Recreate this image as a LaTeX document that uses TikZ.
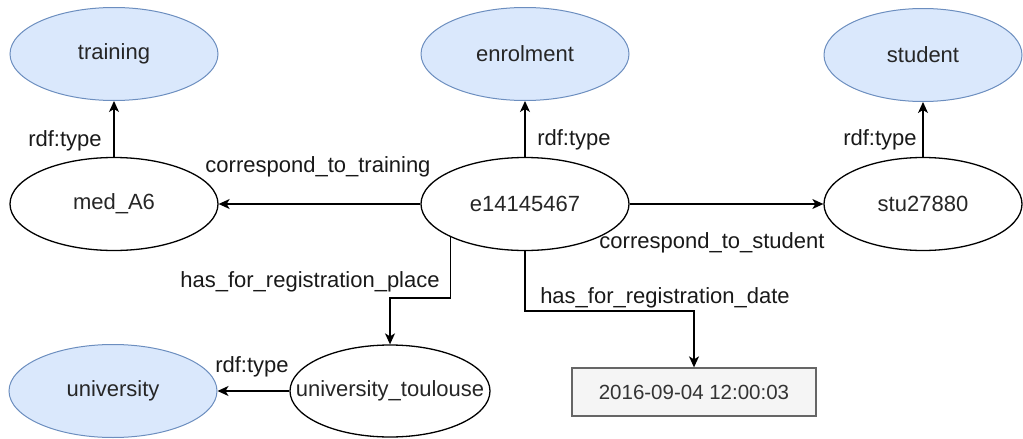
\documentclass[tikz,border=0pt]{standalone}
\usepackage{fontspec}
\setmainfont{Liberation Sans}
\usetikzlibrary{shapes.geometric,arrows.meta,calc}
\definecolor{clsfill}{HTML}{DAE8FC}
\definecolor{clsdraw}{HTML}{6C8EBF}
\definecolor{litfill}{HTML}{F5F5F5}
\definecolor{litdraw}{HTML}{666666}
\definecolor{littext}{HTML}{333333}
\newcommand{\ctx}[1]{\makebox[0pt]{#1}}
\tikzset{
  every node/.style={font=\fontsize{22}{26}\selectfont, text=black!85},
  ell/.style={ellipse, draw=black, line width=1.3pt, inner sep=0pt, minimum width=208pt, minimum height=93pt},
  clsell/.style={ell, fill=clsfill, draw=clsdraw, line width=1pt},
  litbox/.style={rectangle, draw=litdraw, fill=litfill, line width=1.3pt, minimum width=244pt, minimum height=48pt, inner sep=0pt, text=littext, font=\fontsize{20.5}{24}\selectfont},
  arr/.style={line width=1.3pt, -{Stealth[length=11pt, width=10pt, inset=3pt]}},
  lbl/.style={inner sep=0pt, text=black!90}
}
\begin{document}
\begin{tikzpicture}[x=1pt,y=-1pt]
\useasboundingbox (0,0) rectangle (1023,439);
% class nodes
\node[clsell] (training) at (114,54) {\ctx{training}};
\node[clsell] (enrolment) at (525,54) {\ctx{enrolment}};
\node[clsell, minimum width=198pt] (student) at (923,55) {\ctx{student}};
\node[clsell] (university) at (113,391) {\ctx{university}};
% instance nodes
\node[ell] (med) at (114,204) {\ctx{med\_A6}};
\node[ell] (e) at (525,204) {\ctx{e14145467}};
\node[ell, minimum width=198pt] (stu) at (923,204) {\ctx{stu27880}};
\node[ell, minimum width=200pt, minimum height=92pt] (tou) at (390,391) {\ctx{university\_toulouse}};
\node[litbox] (date) at (694,392) {2016-09-04 12:00:03};
% bend coordinates
\coordinate (b1) at (0,298);
\coordinate (b2) at (0,311);
% edges
\draw[arr] (med.north) -- (training.south);
\draw[arr] (e.north) -- (enrolment.south);
\draw[arr] (stu.north) -- (student.south);
\draw[arr] (e.west) -- (med.east);
\draw[arr] (e.east) -- (stu.west);
\draw[arr] (e.204.6) |- (tou.north |- b1) -- (tou.north);
\draw[arr] (e.south) -- (e.south |- b2) -| (date.north);
\draw[arr] (tou.west) -- (university.east);
% labels
\node[lbl] (l1) at (65,141) {rdf:type};
\node[lbl] (l2) at (574,140) {rdf:type};
\node[lbl] (l3) at (880,140) {rdf:type};
\node[lbl] (l4) at (252,367) {rdf:type};
\node[lbl] (l5) at (318,167) {correspond\_to\_training};
\node[lbl] (l6) at (712,243) {correspond\_to\_student};
\node[lbl] (l7) at (310,282) {has\_for\_registration\_place};
\node[lbl] (l8) at (665,298) {has\_for\_registration\_date};
\end{tikzpicture}
\end{document}
